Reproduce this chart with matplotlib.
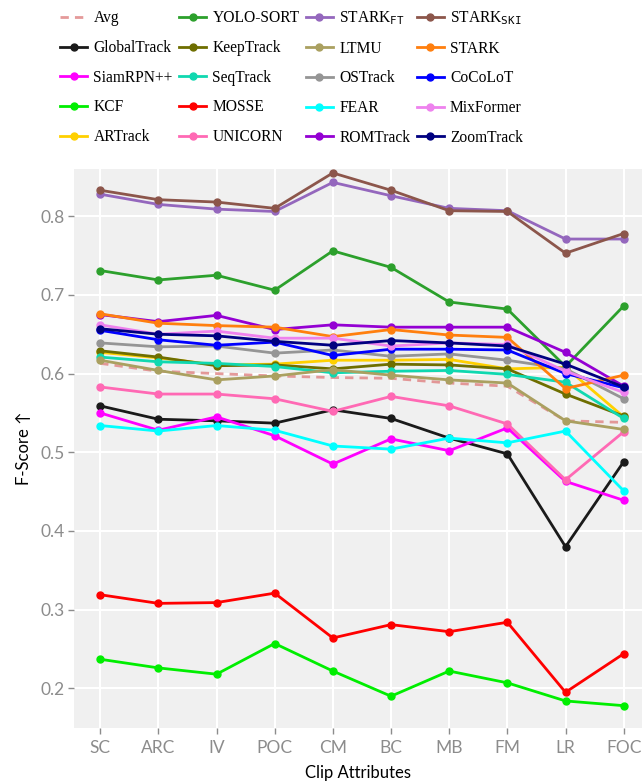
import matplotlib
matplotlib.use("Agg")
import matplotlib.pyplot as plt

attributes = ["SC", "ARC", "IV", "POC", "CM", "BC", "MB", "FM", "LR", "FOC"]

avg        = [0.613, 0.603, 0.600, 0.597, 0.595, 0.594, 0.588, 0.584, 0.540, 0.538]
globaltrack = [0.559, 0.542, 0.540, 0.537, 0.554, 0.543, 0.518, 0.498, 0.380, 0.488]
siamrpn    = [0.550, 0.528, 0.545, 0.521, 0.485, 0.517, 0.502, 0.531, 0.463, 0.439]
kcf        = [0.237, 0.226, 0.218, 0.257, 0.222, 0.190, 0.222, 0.207, 0.184, 0.178]
artrack    = [0.627, 0.620, 0.611, 0.612, 0.617, 0.617, 0.618, 0.606, 0.608, 0.545]
yolo_sort  = [0.731, 0.719, 0.725, 0.706, 0.756, 0.735, 0.691, 0.682, 0.609, 0.686]
keeptrack  = [0.629, 0.621, 0.610, 0.611, 0.606, 0.612, 0.611, 0.606, 0.574, 0.546]
seqtrack   = [0.621, 0.615, 0.613, 0.609, 0.601, 0.603, 0.604, 0.599, 0.589, 0.543]
mosse      = [0.319, 0.308, 0.309, 0.321, 0.264, 0.281, 0.272, 0.284, 0.195, 0.244]
unicorn    = [0.583, 0.574, 0.574, 0.568, 0.552, 0.571, 0.559, 0.536, 0.465, 0.526]
stark_ft   = [0.828, 0.815, 0.809, 0.806, 0.843, 0.826, 0.810, 0.807, 0.771, 0.771]
ltmu       = [0.617, 0.604, 0.592, 0.597, 0.605, 0.598, 0.592, 0.588, 0.540, 0.529]
ostrack    = [0.639, 0.634, 0.635, 0.626, 0.630, 0.622, 0.625, 0.617, 0.606, 0.568]
fear       = [0.534, 0.527, 0.534, 0.528, 0.508, 0.504, 0.518, 0.512, 0.527, 0.451]
romtrack   = [0.675, 0.666, 0.674, 0.656, 0.662, 0.659, 0.659, 0.659, 0.627, 0.584]
stark_ski  = [0.833, 0.821, 0.818, 0.810, 0.855, 0.833, 0.807, 0.806, 0.753, 0.778]
stark      = [0.676, 0.664, 0.661, 0.659, 0.647, 0.656, 0.649, 0.646, 0.581, 0.598]
cocolot    = [0.655, 0.643, 0.636, 0.640, 0.623, 0.631, 0.631, 0.630, 0.600, 0.582]
mixformer  = [0.662, 0.650, 0.654, 0.645, 0.645, 0.635, 0.639, 0.637, 0.603, 0.576]
zoomtrack  = [0.657, 0.650, 0.648, 0.641, 0.636, 0.642, 0.639, 0.635, 0.612, 0.583]

trackers = [
    ("GlobalTrack", globaltrack, "#1a1a1a"),
    ("SiamRPN++", siamrpn, "#ff00ff"),
    ("KCF", kcf, "#00ee00"),
    ("ARTrack", artrack, "#ffd000"),
    ("YOLO-SORT", yolo_sort, "#2ca02c"),
    ("KeepTrack", keeptrack, "#6e6e00"),
    ("SeqTrack", seqtrack, "#10d8b0"),
    ("MOSSE", mosse, "#ff0000"),
    ("UNICORN", unicorn, "#ff69b4"),
    (r"STARK$_{\mathtt{FT}}$", stark_ft, "#9467bd"),
    ("LTMU", ltmu, "#aaa060"),
    ("OSTrack", ostrack, "#959595"),
    ("FEAR", fear, "#00ffff"),
    ("ROMTrack", romtrack, "#9400d3"),
    (r"STARK$_{\mathtt{SKI}}$", stark_ski, "#8c564b"),
    ("STARK", stark, "#ff7f0e"),
    ("CoCoLoT", cocolot, "#0000ff"),
    ("MixFormer", mixformer, "#ee82ee"),
    ("ZoomTrack", zoomtrack, "#000080"),
]

fig = plt.figure(figsize=(6.42, 7.82), dpi=100)
ax = fig.add_axes([74 / 642, 54.3 / 782, 568 / 642, 558.7 / 782])
ax.set_facecolor("#f0f0f0")
for s in ax.spines.values():
    s.set_visible(False)

x = list(range(len(attributes)))
ax.plot(x, avg, color="#e08888", alpha=0.85, lw=2.0, dashes=(3.0, 2.2), label="Avg", zorder=2)
for name, vals, col in trackers:
    ax.plot(x, vals, color=col, lw=2.0, marker="o", markersize=5, label=name, zorder=3)

ax.set_xlim(-0.45, 9.315)
ax.set_ylim(0.15, 0.86)
ax.set_xticks(x)
ax.set_xticklabels(attributes)
ax.set_yticks([0.2, 0.3, 0.4, 0.5, 0.6, 0.7, 0.8])
ax.set_yticklabels(["0.2", "0.3", "0.4", "0.5", "0.6", "0.7", "0.8"])
ax.grid(True, color="white", lw=1.5)
ax.set_axisbelow(True)
ax.tick_params(axis="both", colors="#8c8c8c", labelsize=12.5, length=4, width=1, pad=3)
ax.tick_params(axis="x", pad=5)
for lab in ax.get_xticklabels() + ax.get_yticklabels():
    lab.set_fontfamily("Lato")

ax.set_xlabel("Clip Attributes", fontsize=12, family=["Lato", "DejaVu Sans"], color="black", labelpad=6)
ax.set_ylabel("F-Score ↑", fontsize=12, family=["Lato", "DejaVu Sans"], color="black", labelpad=6)

leg = fig.legend(
    loc="upper left", bbox_to_anchor=(46 / 642, 1.006), ncol=4, frameon=False,
    prop={"family": "Liberation Serif", "size": 11.2},
    handlelength=1.75, handletextpad=0.4, columnspacing=0.4, labelspacing=0.88,
)
fig.savefig("out.png", dpi=100)
